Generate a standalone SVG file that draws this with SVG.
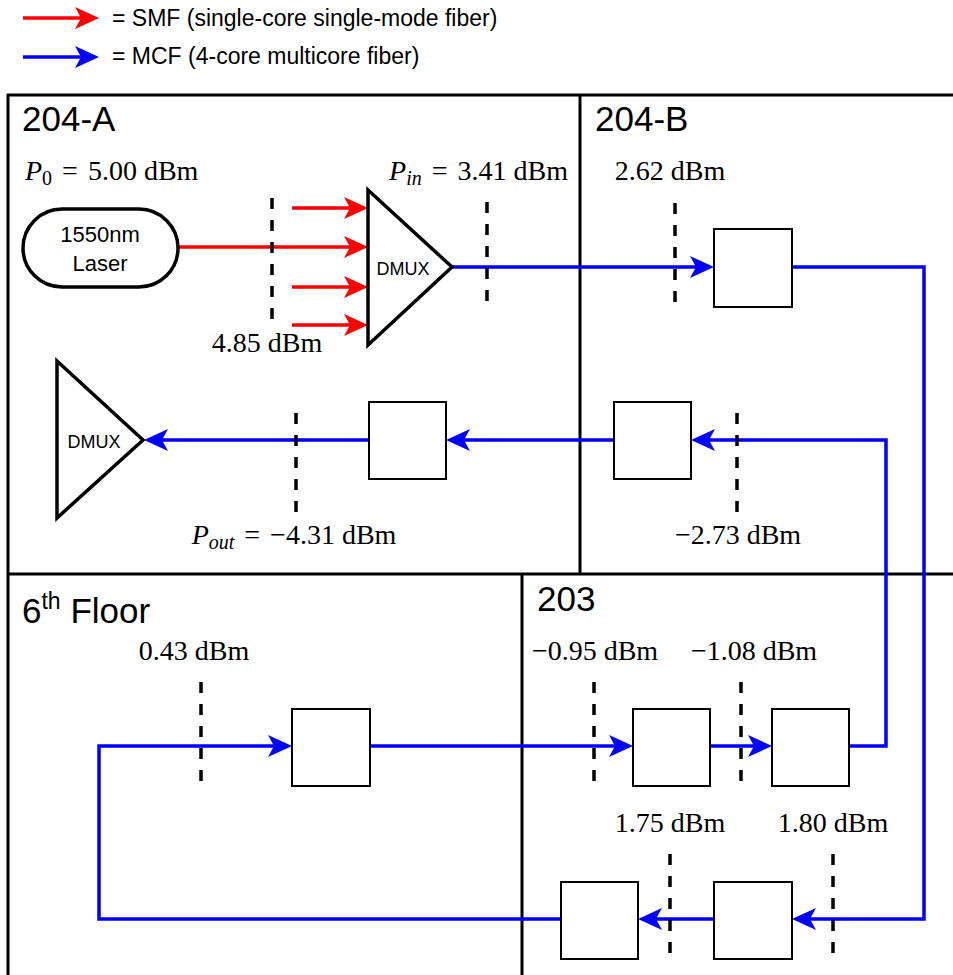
<svg xmlns="http://www.w3.org/2000/svg" width="953" height="975" viewBox="0 0 953 975">
<style>
.frame{stroke:#000;stroke-width:3;fill:none}
.box{fill:#fff;stroke:#000;stroke-width:2}
.shape{fill:#fff;stroke:#000;stroke-width:3.5}
.smf{stroke:#ff0000;stroke-width:3.5;fill:none;marker-end:url(#ahR)}
.mcf{stroke:#0000ff;stroke-width:3.5;fill:none;marker-end:url(#ahB)}
.dash{stroke:#000;stroke-width:3.5;stroke-dasharray:11 11;fill:none}
.sans{font-family:"Liberation Sans",Arial,sans-serif;fill:#000}
.room{font-size:35px}
.leg{font-size:23px}
.lbl{font-size:22px}
.dm{font-size:18px}
.math{font-family:"Liberation Serif","Times New Roman",serif;font-size:28px;fill:#000}
.it{font-style:italic}
</style>
<defs>
<marker id="ahR" viewBox="0 0 24 24" refX="14" refY="12" markerWidth="24" markerHeight="24" markerUnits="userSpaceOnUse" orient="auto">
<path d="M0,1 L24,12 L0,23 L6,12 Z" fill="#ff0000"/>
</marker>
<marker id="ahB" viewBox="0 0 24 24" refX="14" refY="12" markerWidth="24" markerHeight="24" markerUnits="userSpaceOnUse" orient="auto">
<path d="M0,1 L24,12 L0,23 L6,12 Z" fill="#0000ff"/>
</marker>
</defs>
<rect width="953" height="975" fill="#fff"/>

<g id="legend">
<path class="smf" d="M23,18 L89,18"/>
<text class="sans leg" x="112" y="26">= SMF (single-core single-mode fiber)</text>
<path class="mcf" d="M23,57 L89,57"/>
<text class="sans leg" x="112" y="64">= MCF (4-core multicore fiber)</text>
</g>

<g id="rooms">
<path class="frame" d="M7,95 L953,95 M8,94 L8,975 M7,574 L953,574 M580,95 L580,574 M522,574 L522,975"/>
<text class="sans room" x="22" y="131">204-A</text>
<text class="sans room" x="595" y="131">204-B</text>
<text class="sans room" x="537" y="611">203</text>
<text class="sans room" x="22" y="623">6<tspan font-size="23" dy="-14">th</tspan><tspan dy="14"> Floor</tspan></text>
</g>

<g id="connectors">
<path class="smf" d="M178,247 L358,247"/>
<path class="smf" d="M292,208 L358,208"/>
<path class="smf" d="M292,287 L358,287"/>
<path class="smf" d="M292,325 L358,325"/>
<path class="mcf" d="M452,267 L704,267"/>
<path class="mcf" d="M792,267 L924,267 L924,919 L802,919"/>
<path class="mcf" d="M714,919 L648,919"/>
<path class="mcf" d="M561,919 L99,919 L99,746 L282,746"/>
<path class="mcf" d="M370,746 L623,746"/>
<path class="mcf" d="M710,746 L762,746"/>
<path class="mcf" d="M849,746 L886,746 L886,440 L701,440"/>
<path class="mcf" d="M614,440 L456,440"/>
<path class="mcf" d="M369,440 L154,440"/>
</g>

<g id="laser">
<rect class="shape" x="23" y="209" width="155" height="78" rx="39" ry="39"/>
<text class="sans lbl" x="100" y="242" text-anchor="middle">1550nm</text>
<text class="sans lbl" x="100" y="271" text-anchor="middle">Laser</text>
</g>
<g id="dmux-tx">
<path class="shape" d="M368,190 L452,267 L368,345 Z"/>
<text class="sans dm" x="403" y="275" text-anchor="middle">DMUX</text>
</g>
<g id="dmux-rx">
<path class="shape" d="M57,361 L143,440 L57,518 Z"/>
<text class="sans dm" x="94" y="448" text-anchor="middle">DMUX</text>
</g>

<g id="box-204b-1"><rect class="box" x="714" y="229" width="78" height="78"/></g>
<g id="box-204b-2"><rect class="box" x="614" y="402" width="77" height="77"/></g>
<g id="box-204a"><rect class="box" x="369" y="402" width="77" height="77"/></g>
<g id="box-6f"><rect class="box" x="292" y="709" width="78" height="77"/></g>
<g id="box-203-1"><rect class="box" x="633" y="709" width="77" height="77"/></g>
<g id="box-203-2"><rect class="box" x="772" y="709" width="77" height="77"/></g>
<g id="box-203-3"><rect class="box" x="561" y="882" width="77" height="77"/></g>
<g id="box-203-4"><rect class="box" x="714" y="882" width="78" height="77"/></g>

<g id="measurements">
<path class="dash" d="M272,198 L272,325"/>
<path class="dash" d="M487,202 L487,305"/>
<path class="dash" d="M675,203 L675,305"/>
<path class="dash" d="M737,413 L737,516"/>
<path class="dash" d="M296,413 L296,517"/>
<path class="dash" d="M201,682 L201,785"/>
<path class="dash" d="M594,682 L594,785"/>
<path class="dash" d="M741,682 L741,785"/>
<path class="dash" d="M670,854 L670,957"/>
<path class="dash" d="M833,854 L833,957"/>
<text class="math" x="25" y="180"><tspan class="it">P</tspan><tspan font-size="20" dy="5">0</tspan><tspan dy="-5" dx="10">=</tspan><tspan dx="10">5.00 dBm</tspan></text>
<text class="math" x="267" y="352" text-anchor="middle">4.85 dBm</text>
<text class="math" x="568" y="180" text-anchor="end"><tspan class="it">P</tspan><tspan class="it" font-size="20" dy="5">in</tspan><tspan dy="-5" dx="10">=</tspan><tspan dx="10">3.41 dBm</tspan></text>
<text class="math" x="670" y="180" text-anchor="middle">2.62 dBm</text>
<text class="math" x="738" y="544" text-anchor="middle">−2.73 dBm</text>
<text class="math" x="294" y="544" text-anchor="middle"><tspan class="it">P</tspan><tspan class="it" font-size="20" dy="5">out</tspan><tspan dy="-5" dx="10">=</tspan><tspan dx="10">−4.31 dBm</tspan></text>
<text class="math" x="194" y="660" text-anchor="middle">0.43 dBm</text>
<text class="math" x="595" y="660" text-anchor="middle">−0.95 dBm</text>
<text class="math" x="754" y="660" text-anchor="middle">−1.08 dBm</text>
<text class="math" x="670" y="832" text-anchor="middle">1.75 dBm</text>
<text class="math" x="833" y="832" text-anchor="middle">1.80 dBm</text>
</g>
</svg>
